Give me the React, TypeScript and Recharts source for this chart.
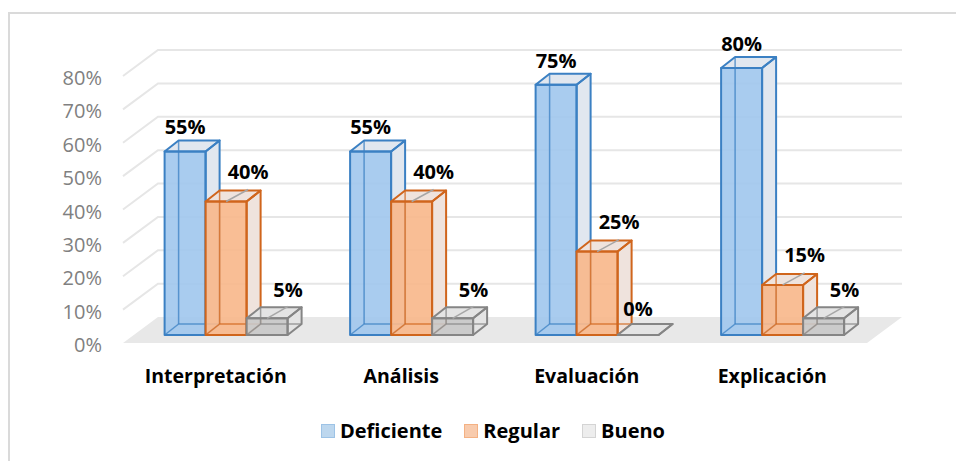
import React from "react";
import {
  Bar,
  BarChart,
  CartesianGrid,
  LabelList,
  Legend,
  XAxis,
  YAxis,
} from "recharts";

const categories = ["Interpretación", "Análisis", "Evaluación", "Explicación"];
const deficiente = [55, 55, 75, 80];
const regular = [40, 40, 25, 15];
const bueno = [5, 5, 0, 5];
const yTicks = [0, 10, 20, 30, 40, 50, 60, 70, 80];

const data = categories.map((name, i) => ({
  name,
  deficiente: deficiente[i],
  regular: regular[i],
  bueno: bueno[i],
}));

const FONT = "'Open Sans', sans-serif";
// depth of each box (px)
const DX = 14;
const DY = -11;

const palette = {
  deficiente: { front: "#a0c7ed", side: "#e1e7ef", edge: "#3b80c3", swatch: "#bdd7ee", swatchEdge: "#9dc3e6" },
  regular: { front: "#f8b78a", side: "#efe3dd", edge: "#d0651c", swatch: "#f8cbad", swatchEdge: "#f4b183" },
  bueno: { front: "#c8c8c8", side: "#e4e4e4", edge: "#858585", swatch: "#ededed", swatchEdge: "#d4d4d4" },
};

const series = [
  { key: "deficiente", name: "Deficiente", nudge: 0, lift: 17 },
  { key: "regular", name: "Regular", nudge: 22, lift: 23 },
  { key: "bueno", name: "Bueno", nudge: 21, lift: 21 },
] as const;

function Box3D(props: any) {
  const { x, y, width: w, height: h, c } = props;
  if (x == null || y == null) return null;
  const side = `${x + w},${y} ${x + w + DX},${y + DY} ${x + w + DX},${y + h + DY} ${x + w},${y + h}`;
  const top = `${x},${y} ${x + DX},${y + DY} ${x + w + DX},${y + DY} ${x + w},${y}`;
  return (
    <g>
      <polygon points={side} fill={c.side} />
      <polygon points={top} fill={c.side} />
      {h > 0 && <rect x={x} y={y} width={w} height={h} fill={c.front} fillOpacity={0.9} />}
      {h > 0 && (
        <g stroke={c.edge} strokeOpacity={0.75} strokeWidth={1.5} fill="none">
          <line x1={x + DX} y1={y + DY} x2={x + DX} y2={y + h + DY} />
          <line x1={x + DX} y1={y + h + DY} x2={x + w + DX} y2={y + h + DY} />
          <line x1={x} y1={y + h} x2={x + DX} y2={y + h + DY} />
        </g>
      )}
      <g stroke={c.edge} strokeWidth={2} fill="none" strokeLinejoin="round">
        <polygon points={side} />
        <polygon points={top} />
        {h > 0 && <rect x={x} y={y} width={w} height={h} />}
      </g>
    </g>
  );
}

function makeLabel(nudge: number, lift: number) {
  return (p: any) => {
    const { x, y, width, value } = p;
    const cx = x + width / 2;
    const dx = value > 0 ? nudge : 0;
    const baseLift = value > 0 ? lift : 19;
    return (
      <g>
        {dx !== 0 && (
          <line x1={cx} y1={y} x2={cx + dx} y2={y - 12} stroke="#a6a6a6" strokeWidth={1.5} />
        )}
        <text
          x={cx + dx}
          y={y - baseLift}
          textAnchor="middle"
          fontFamily={FONT}
          fontWeight={700}
          fontSize={20}
          fill="#000"
        >
          {value}%
        </text>
      </g>
    );
  };
}

function GridLine(p: any) {
  const { x1, x2, y1, index } = p;
  if (y1 == null) return null;
  if (index === 0) {
    return (
      <polygon
        key={`floor-${index}`}
        points={`${x1 - 11},${y1 + 8} ${x1 + 24},${y1 - 18} ${x2 + 26},${y1 - 18} ${x2 - 9},${y1 + 8}`}
        fill="#e8e8e8"
      />
    );
  }
  return (
    <polyline
      key={`grid-${index}`}
      points={`${x1 - 11},${y1 + 8} ${x1 + 24},${y1 - 18} ${x2 + 26},${y1 - 18}`}
      fill="none"
      stroke="#e6e6e6"
      strokeWidth={2}
    />
  );
}

function YTick(p: any) {
  const { x, y, payload } = p;
  return (
    <text x={x - 32} y={y + 17} textAnchor="end" fontFamily={FONT} fontSize={20} fill="#808080">
      {payload.value}%
    </text>
  );
}

function XTick(p: any) {
  const { x, y, payload } = p;
  return (
    <text x={x - 11} y={y + 48} textAnchor="middle" fontFamily={FONT} fontWeight={700} fontSize={19.5} fill="#000">
      {payload.value}
    </text>
  );
}

function LegendContent() {
  return (
    <div
      style={{
        display: "flex",
        justifyContent: "center",
        alignItems: "center",
        fontFamily: FONT,
        fontWeight: 700,
        fontSize: 20,
        color: "#000",
      }}
    >
      {series.map((s) => (
        <div key={s.key} style={{ display: "flex", alignItems: "center", margin: "0 11px" }}>
          <span
            style={{
              width: 12,
              height: 12,
              background: palette[s.key].swatch,
              border: `1.5px solid ${palette[s.key].swatchEdge}`,
              marginRight: 5,
            }}
          />
          {s.name}
        </div>
      ))}
    </div>
  );
}

export default function App() {
  return (
    <div style={{ position: "absolute", left: 0, top: 0, width: 956, height: 461, background: "#fff" }}>
      <div
        style={{
          position: "absolute",
          left: 8,
          top: 12,
          width: 960,
          height: 470,
          border: "2px solid #dadada",
          boxSizing: "border-box",
        }}
      />
      <div style={{ position: "absolute", left: 0, top: 0 }}>
        <BarChart
          width={956}
          height={461}
          data={data}
          margin={{ top: 68, right: 80, bottom: 96, left: 74 }}
          barCategoryGap="16.5%"
          barGap={0}
        >
          <CartesianGrid vertical={false} horizontal={GridLine} />
          <XAxis dataKey="name" axisLine={false} tickLine={false} tickSize={0} tickMargin={0} height={30} tick={XTick} />
          <YAxis
            domain={[0, 80]}
            ticks={yTicks}
            axisLine={false}
            tickLine={false}
            tickSize={0}
            tickMargin={0}
            width={60}
            tick={YTick}
          />
          <Legend
            layout="horizontal"
            verticalAlign="middle"
            align="center"
            wrapperStyle={{ top: 417, left: 15, width: 956 }}
            content={LegendContent}
          />
          {series.map((s) => (
            <Bar
              key={s.key}
              dataKey={s.key}
              name={s.name}
              fill={palette[s.key].front}
              isAnimationActive={false}
              shape={(p: any) => <Box3D {...p} c={palette[s.key]} />}
            >
              <LabelList dataKey={s.key} content={makeLabel(s.nudge, s.lift)} />
            </Bar>
          ))}
        </BarChart>
      </div>
    </div>
  );
}
